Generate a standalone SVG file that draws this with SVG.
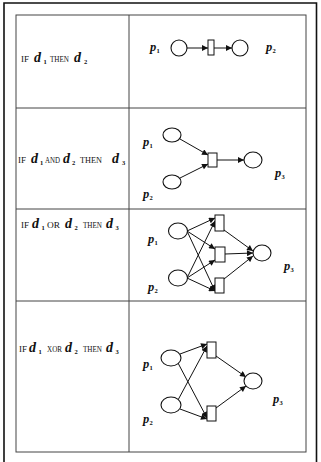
<svg xmlns="http://www.w3.org/2000/svg" width="321" height="462" viewBox="0 0 321 462">
<style>
.frame{fill:none;stroke:#111;stroke-width:1.6}
.grid{fill:none;stroke:#444;stroke-width:1}
.pl{fill:#fff;stroke:#111;stroke-width:1.1}
.tr{fill:#fff;stroke:#111;stroke-width:1}
.arc{fill:none;stroke:#111;stroke-width:1;marker-end:url(#ah)}
.cap{font-family:"Liberation Serif",serif;font-size:9px;fill:#111}
.d{font-family:"Liberation Serif",serif;font-size:14px;font-weight:bold;font-style:italic;fill:#111}
.s{font-family:"Liberation Serif",serif;font-size:6.5px;font-weight:bold;fill:#111}
.p{font-family:"Liberation Serif",serif;font-size:12.5px;font-weight:bold;font-style:italic;fill:#111}
</style>
<defs>
<marker id="ah" viewBox="0 0 10 10" refX="10" refY="5" markerWidth="7" markerHeight="6" markerUnits="userSpaceOnUse" orient="auto">
<path d="M0,0 L10,5 L0,10 z" fill="#111"/>
</marker>
</defs>
<rect width="321" height="462" fill="#fff"/>
<path class="frame" d="M4,462 V3 H316.5 V462"/>
<g id="table">
<rect class="grid" x="16" y="15" width="290" height="437"/>
<line class="grid" x1="129" y1="15" x2="129" y2="452"/>
<line class="grid" x1="16" y1="108" x2="306" y2="108"/>
<line class="grid" x1="16" y1="209" x2="306" y2="209"/>
<line class="grid" x1="16" y1="301" x2="306" y2="301"/>
</g>
<g id="rules">
<text class="cap" x="21" y="62" textLength="8" lengthAdjust="spacingAndGlyphs">IF</text>
<text class="d" x="34" y="62">d</text><text class="s" x="43.5" y="64">1</text>
<text class="cap" x="50" y="62" textLength="19" lengthAdjust="spacingAndGlyphs">THEN</text>
<text class="d" x="74" y="62">d</text><text class="s" x="84" y="64">2</text>

<text class="cap" x="18" y="163" textLength="8" lengthAdjust="spacingAndGlyphs">IF</text>
<text class="d" x="31" y="163">d</text><text class="s" x="40" y="165">1</text>
<text class="cap" x="45" y="163" textLength="15" lengthAdjust="spacingAndGlyphs">AND</text>
<text class="d" x="63" y="163">d</text><text class="s" x="72" y="165">2</text>
<text class="cap" x="80" y="163" textLength="22" lengthAdjust="spacingAndGlyphs">THEN</text>
<text class="d" x="112" y="163">d</text><text class="s" x="122" y="165">3</text>

<text class="cap" x="21" y="228" textLength="8" lengthAdjust="spacingAndGlyphs">IF</text>
<text class="d" x="32" y="228">d</text><text class="s" x="41.5" y="230">1</text>
<text class="cap" x="47" y="228" textLength="13" lengthAdjust="spacingAndGlyphs">OR</text>
<text class="d" x="65" y="228">d</text><text class="s" x="74.5" y="230">2</text>
<text class="cap" x="83" y="228" textLength="19" lengthAdjust="spacingAndGlyphs">THEN</text>
<text class="d" x="106" y="228">d</text><text class="s" x="115.5" y="230">3</text>

<text class="cap" x="19" y="352" textLength="8" lengthAdjust="spacingAndGlyphs">IF</text>
<text class="d" x="29" y="352">d</text><text class="s" x="38.5" y="354">1</text>
<text class="cap" x="47" y="352" textLength="15" lengthAdjust="spacingAndGlyphs">XOR</text>
<text class="d" x="65" y="352">d</text><text class="s" x="74.5" y="354">2</text>
<text class="cap" x="83" y="352" textLength="19" lengthAdjust="spacingAndGlyphs">THEN</text>
<text class="d" x="106" y="352">d</text><text class="s" x="115.5" y="354">3</text>
</g>
<g id="connectors">
<line class="arc" x1="187" y1="48" x2="208" y2="48"/>
<line class="arc" x1="214" y1="48" x2="232" y2="48"/>

<line class="arc" x1="180" y1="139" x2="208" y2="155"/>
<line class="arc" x1="180" y1="178" x2="208" y2="164"/>
<line class="arc" x1="217" y1="160" x2="244" y2="160"/>

<line class="arc" x1="187" y1="231" x2="215" y2="218"/>
<line class="arc" x1="187" y1="231" x2="215" y2="249"/>
<line class="arc" x1="187" y1="231" x2="215" y2="291"/>
<line class="arc" x1="187" y1="278" x2="215" y2="221"/>
<line class="arc" x1="187" y1="278" x2="215" y2="260"/>
<line class="arc" x1="187" y1="278" x2="215" y2="291"/>
<line class="arc" x1="224" y1="230" x2="253" y2="251"/>
<line class="arc" x1="225" y1="254" x2="253" y2="253"/>
<line class="arc" x1="224" y1="279" x2="253" y2="256"/>

<line class="arc" x1="180" y1="354" x2="207" y2="344"/>
<line class="arc" x1="178" y1="363" x2="207" y2="418"/>
<line class="arc" x1="178" y1="400" x2="207" y2="346"/>
<line class="arc" x1="180" y1="409" x2="207" y2="419"/>
<line class="arc" x1="216" y1="356" x2="246" y2="377"/>
<line class="arc" x1="216" y1="408" x2="246" y2="386"/>
</g>
<g id="net1">
<circle class="pl" cx="179" cy="48" r="8"/>
<rect class="tr" x="208" y="40" width="6" height="15"/>
<circle class="pl" cx="240" cy="48" r="8"/>
<text class="p" x="150" y="51">p</text><text class="s" x="156.5" y="53">1</text>
<text class="p" x="266" y="51">p</text><text class="s" x="272.5" y="53">2</text>
</g>
<g id="net2">
<ellipse class="pl" cx="172" cy="135" rx="9" ry="7"/>
<ellipse class="pl" cx="172" cy="182" rx="9" ry="7"/>
<rect class="tr" x="208" y="153" width="9" height="14"/>
<ellipse class="pl" cx="253" cy="160" rx="9" ry="8"/>
<text class="p" x="143" y="146">p</text><text class="s" x="149.5" y="148">1</text>
<text class="p" x="143" y="198">p</text><text class="s" x="149.5" y="200">2</text>
<text class="p" x="275" y="177">p</text><text class="s" x="281.5" y="179">3</text>
</g>
<g id="net3">
<ellipse class="pl" cx="178" cy="231" rx="9.5" ry="8"/>
<ellipse class="pl" cx="178" cy="278" rx="9.5" ry="8"/>
<rect class="tr" x="215" y="215" width="9" height="16"/>
<rect class="tr" x="215" y="247" width="10" height="15"/>
<rect class="tr" x="215" y="278" width="9" height="15"/>
<ellipse class="pl" cx="262" cy="253" rx="9" ry="8"/>
<text class="p" x="148" y="243">p</text><text class="s" x="154.5" y="245">1</text>
<text class="p" x="148" y="291">p</text><text class="s" x="154.5" y="293">2</text>
<text class="p" x="284" y="270">p</text><text class="s" x="290.5" y="272">3</text>
</g>
<g id="net4">
<ellipse class="pl" cx="171" cy="358" rx="10" ry="8"/>
<ellipse class="pl" cx="171" cy="405" rx="10" ry="8"/>
<rect class="tr" x="207" y="342" width="9" height="16"/>
<rect class="tr" x="207" y="406" width="9" height="15"/>
<ellipse class="pl" cx="253" cy="381" rx="9" ry="8"/>
<text class="p" x="143" y="368">p</text><text class="s" x="149.5" y="370">1</text>
<text class="p" x="143" y="423">p</text><text class="s" x="149.5" y="425">2</text>
<text class="p" x="273" y="403">p</text><text class="s" x="279.5" y="405">3</text>
</g>
</svg>
